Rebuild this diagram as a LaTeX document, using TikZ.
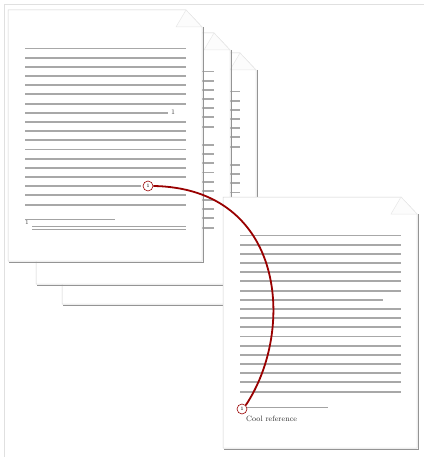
\documentclass[tikz,border=0pt]{standalone}
\usepackage{tikz}

\begin{document}
\begin{tikzpicture}[
    x=1pt,y=-1pt,
    sheet/.style={fill=white,draw=black!18,line width=.5pt},
    shade/.style={draw=black!42,line width=1.3pt},
    fold/.style={draw=black!9,fill=black!1,line width=.5pt},
    txtline/.style={draw=black!34,line width=1.9pt},
    noteline/.style={draw=black!36,line width=.8pt},
    refmark/.style={circle,draw=red!60!black,fill=white,line width=.6pt,inner sep=0pt,minimum size=10pt,font=\fontsize{5}{5}\selectfont},
    refline/.style={draw=red!60!black,line width=1.8pt},
    supnum/.style={inner sep=0pt,font=\fontsize{7}{7}\selectfont,text=black!75},
    pics/page/.style={code={
        \draw[shade] (195.5,17) -- (195.5,252.5) -- (1,252.5);
        \draw[sheet] (0,0) -- (178,0) -- (194,17) -- (194,251) -- (0,251) -- cycle;
        \draw[fold] (178,0) -- (168,17) -- (194,17) -- cycle;
        \foreach \i in {1,...,7,9,10,...,15,17,18}
            \draw[txtline] (17,{38.5+9.18*(\i-1)}) -- (178,{38.5+9.18*(\i-1)});
        \draw[txtline] (17,{38.5+9.18*7}) -- (160,{38.5+9.18*7});
        \draw[txtline] (17,{38.5+9.18*15}) -- (#1,{38.5+9.18*15});
    }},
    pics/page/.default=178
]
\useasboundingbox (0,0) rectangle (424,457);
\draw[black!12,line width=.6pt] (4,457) -- (4,4) -- (424,4);

% stack of pages, back to front
\pic (third) at (62,53) {page};
\pic (second) at (36,33) {page};
\pic (first) at (8,10) {page=133};
\pic (fourth) at (223,197) {page};

% front page: citation and footnote
\node[supnum] (sup) at (173,112.5) {1};
\node[refmark] (ref) at (148,186) {1};
\draw[noteline] (25,219) -- (115,219);
\node[supnum,font=\fontsize{6}{6}\selectfont] (fn) at (27,223) {1};
\draw[noteline,line width=.6pt] (32,226) -- (186,226);
\draw[noteline,line width=.6pt] (32,229) -- (186,229);

% last page: the note
\draw[noteline] (247,407) -- (328,407);
\node[refmark] (note) at (242,409) {1};
\node[anchor=west,inner sep=0pt,font=\fontsize{7.7}{9}\selectfont,text=black!80] (cool) at (246,419) {Cool reference};

\draw[refline] (ref.east) .. controls +(132,2) and +(50,-75) .. (note.north east);
\end{tikzpicture}
\end{document}
